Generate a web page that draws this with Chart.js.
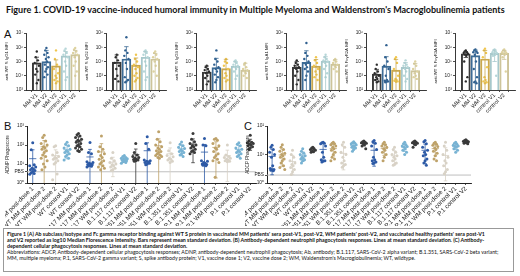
<!DOCTYPE html>
<html>
<head>
<meta charset="utf-8">
<script src="https://cdn.jsdelivr.net/npm/chart.js@4.4.0/dist/chart.umd.min.js"></script>
<style>
body{margin:0;width:520px;height:276px;background:#fff;position:relative;overflow:hidden;font-family:'Liberation Sans',Arial,sans-serif;}
.abs{position:absolute;}
#title{left:6px;top:4px;font:bold 9px Lato,sans-serif;white-space:nowrap;color:#111;}
.lett{font-size:11px;color:#111;}
#cap{left:3px;top:228px;width:511px;height:44px;border:1px solid #999;box-sizing:border-box;padding:2px 3px;font:5.25px/6px Lato,sans-serif;white-space:nowrap;color:#111;}
#cap b{font-weight:bold;}
</style>
</head>
<body>
<div id="title" class="abs">Figure 1. COVID-19 vaccine-induced humoral immunity in Multiple Myeloma and Waldenstrom's Macroglobulinemia patients</div>
<div class="abs lett" style="left:4px;top:28px">A</div>
<div class="abs lett" style="left:4px;top:120px">B</div>
<div class="abs lett" style="left:244px;top:120px">C</div>
<canvas id="a0" class="abs"></canvas>
<canvas id="a1" class="abs"></canvas>
<canvas id="a2" class="abs"></canvas>
<canvas id="a3" class="abs"></canvas>
<canvas id="a4" class="abs"></canvas>
<canvas id="a5" class="abs"></canvas>
<canvas id="chartB" class="abs"></canvas>
<canvas id="chartC" class="abs"></canvas>
<div id="cap" class="abs">
<b>Figure 1 (A) Ab subclass/isotype and Fc gamma receptor binding against WT S protein in vaccinated MM patients' sera post-V1, post-V2, WM patients' post-V2, and vaccinated healthy patients' sera post-V1</b><br>
<b>and V2 reported as log10 Median Florescence Intensity. Bars represent mean standard deviation. (B) Antibody-dependent neutrophil phagocytosis responses. Lines at mean standard deviation. (C) Antibody-</b><br>
<b>dependent cellular phagocytosis responses. Lines at mean standard deviation.</b><br>
Abbreviations: ADCP, Antibody-dependent cellular phagocytosis responses; ADNP, antibody-dependent neutrophil phagocytosis; Ab, antibody; B.1.117, SARS-CoV-2 alpha variant; B.1.351, SARS-CoV-2 beta variant;<br>
MM, multiple myeloma; P.1, SARS-CoV-2 gamma variant; S, spike antibody protein; V1, vaccine dose 1; V2, vaccine dose 2; WM, Waldenstrom's Macroglobulinemia; WT, wildtype.
</div>
<script>
// ---- panel A data ----
let groupsA = ['MM V1','MM V2','WM V2','control V1','control V2'];
let titlesA = ['anti-WT S IgG1 MFI','anti-WT S IgG2 MFI','anti-WT S IgG3 MFI','anti-WT S IgA1 MFI','anti-WT S FcγR2A MFI','anti-WT S FcγR3A MFI'];
let rangeA = [[1e3,1e7],[1e2,1e6],[1e2,1e6],[1e2,1e6],[1e2,1e6],[1e3,1e7]];

let meansIgG1 = [8e4, 1e5, 5e4, 2.5e5, 3e5];
let sdIgG1 = [1.2e5, 5e5, 8e4, 2.5e5, 3e5];
let ptsIgG1 = [
  [5e5,2e5,1.2e5,8e4,5e4,3e4,2e4,1.2e4,5e3,3e3],
  [9e5,6e5,4e5,3e5,2e5,1.5e5,1e5,6e4,4e4,3e4,2e4,1.2e4,8e3],
  [6e5,1.5e5,6e4,3e4,1.5e4,1e4,7e3,5e3,4e3,3e3],
  [8e5,6e5,4e5,3e5,2e5,1e5,5e4,2e4,8e3,5e3],
  [9e5,7e5,5e5,4e5,3e5,2e5,1e5,5e4,2e4,1e4]];

let meansIgG2 = [9e3, 1.5e4, 5.6e3, 2e4, 1.5e4];
let sdIgG2 = [2e4, 9.5e4, 1.2e4, 3e4, 2.2e4];
let ptsIgG2 = [
  [3e4,2e4,1.2e4,8e3,5e3,3e3,1e3,600,400],
  [5e5,6e4,4e4,2.5e4,1.5e4,8e3,3e3,800,500,400,350],
  [3e4,1.5e4,1e4,6e3,4e3,3e3,1.5e3,1e3,700,500,400],
  [6e4,5e4,4e4,3e4,2e4,1e4,5e3,2e3,800,500],
  [5e4,4e4,3e4,2e4,1.5e4,1e4,5e3,2e3,1e3]];

let meansIgG3 = [1.8e3, 3.7e3, 3.2e3, 4.8e3, 2.5e3];
let sdIgG3 = [3e3, 1.3e4, 1.1e4, 5e3, 5e3];
let ptsIgG3 = [
  [5e3,4e3,3e3,2.5e3,2e3,1.5e3,1e3,700,400,250],
  [6e4,1.5e4,1e4,6e3,4e3,3e3,2e3,1.2e3,800,500,350],
  [1.5e4,1e4,8e3,5e3,3e3,1.5e3,1e3,700,500,400],
  [1.2e4,1e4,8e3,6e3,5e3,4e3,3e3,2e3,1e3,600],
  [8e3,6e3,4e3,3e3,2.5e3,2e3,1.5e3,1e3,700]];

let meansIgA1 = [3.9e3, 8.7e3, 4.8e3, 1.07e4, 6.6e3];
let sdIgA1 = [6e3, 4.8e4, 9e3, 1.1e4, 7e3];
let ptsIgA1 = [
  [1.2e4,8e3,6e3,5e3,4e3,3e3,2e3,1e3,500,250],
  [2e5,4e4,2.5e4,1.5e4,1e4,6e3,4e3,3e3,2e3,1e3,500],
  [2e4,1.2e4,8e3,5e3,3e3,2e3,1.2e3,800,500],
  [3e4,2e4,1.5e4,1.2e4,1e4,8e3,5e3,3e3,1.5e3,800],
  [1.5e4,1.2e4,1e4,8e3,6e3,5e3,4e3,3e3,2e3]];

let meansR2A = [1.3e3, 4.8e3, 2.5e3, 3.9e3, 2.3e3];
let sdR2A = [1.5e3, 1.7e4, 1.15e4, 4.4e3, 5e3];
let ptsR2A = [
  [6e3,3e3,2e3,1.5e3,1e3,800,600,500,400,350],
  [1.4e5,2e4,1e4,5e3,3e3,1e3,500,450,400,380,350],
  [2e4,1.5e4,8e3,3e3,1e3,600,500,450,400,380],
  [1.2e4,8e3,6e3,5e3,4e3,3e3,2e3,1e3,600,400],
  [1e4,7e3,5e3,3e3,2e3,1.5e3,1e3,800,600]];

let meansR3A = [3.4e5, 2.6e5, 1.5e5, 3.7e5, 3.7e5];
let sdR3A = [1.5e5, 3.8e5, 4.5e5, 2.7e5, 2.3e5];
let ptsR3A = [
  [6e5,5e5,4.5e5,4e5,3.5e5,3e5,2.5e5,1e5,8e3,4e3],
  [7e5,6e5,5e5,4.5e5,4e5,3e5,1e5,3e4,8e3,4e3,3.5e3,3e3],
  [8e5,6e5,4e5,2e5,4e4,8e3,5e3,4e3,3.5e3,3e3],
  [7e5,6e5,5e5,4.5e5,4e5,3.5e5,3e5,2.5e5,1e4],
  [7e5,6e5,5e5,4.5e5,4e5,3.5e5,3e5,2e5,2e4]];

// ---- panel B / C data ----
let catsB = ['WT MM post-dose 1','WT MM post-dose 2','WT WM post-dose 2','WT control V1','WT control V2',
  'B.1.117 MM post-dose 1','B.1.117 MM post-dose 2','B.1.117 WM post-dose 2','B.1.117 control V1','B.1.117 control V2',
  'B.1.351 MM post-dose 1','B.1.351 MM post-dose 2','B.1.351 WM post-dose 2','B.1.351 control V1','B.1.351 control V2',
  'P.1 MM post-dose 1','P.1 MM post-dose 2','P.1 WM post-dose 2','P.1 control V1','P.1 control V2'];
let catsC = ['WT MM post-dose 1','WT MM post-dose 2','WT WM post-dose 2','WT control V1','WT control V2',
  'B.1.351 MM post-dose 1','B.1.351 MM post-dose 2','B.1.351 WM post-dose 2','B.1.351 control V1','B.1.351 control V2',
  'B.1.117 MM post-dose 1','B.1.117 MM post-dose 2','B.1.117 WM post-dose 2','B.1.117 control V1','B.1.117 control V2',
  'P.1 MM post-dose 1','P.1 MM post-dose 2','P.1 WM post-dose 2','P.1 control V1','P.1 control V2'];

let ptsADNP = [
  [133,56,9,8,7,6,5.5,5,4.5,4,3.5,3.2,2.9],
  [330,250,160,120,100,80,70,60,50,40,30,25,20,15,10,7,5],
  [90,80,40,30,25,22,20,18,15,12,10,3,1.5],
  [140,110,90,70,60,50,45,40,35,30,25,20,16],
  [400,350,300,250,200,180,160,140,120,100,90,80,70,60,50,45],
  [135,40,35,13,12,11,10,9.5,9,8.5,8,7.5,7],
  [300,80,60,45,35,28,22,18,15,12,10,8,7,6,5],
  [40,20,15,12,10,9,8,7,6,5,4.5],
  [28,25,22,20,19,18,17,16,15,14,13,12,11],
  [120,40,30,25,22,20,18,17,16,15,14],
  [270,120,60,16,15,14,13,12,11,10,9],
  [500,200,150,100,80,70,60,50,45,40,35,30,28,25,22,20],
  [130,50,35,28,24,20,18,16,14,12],
  [145,110,90,75,65,55,50,45,40,35,30,25],
  [400,200,150,120,100,90,80,70,60,50,45,40,35],
  [220,100,90,15,14,12,11,10,9.5,9,8.5,8],
  [220,200,180,120,90,70,60,45,35,28,22,18,15,12,2],
  [100,30,25,22,20,18,16,15,14,13],
  [130,110,90,70,60,50,45,40,35,30,25,20],
  [330,160,140,130,120,110,100,90,80,70,60]];

let ptsADCP = [
  [21,18,15,12,10,8,4,3.2,3,2.9,2.8,2.7],
  [22,18,15,13,11,10,9,8,7,6,5,4,3.5,3],
  [14,10,8,6,5,4.5,4,3.5,3,2.5,2],
  [16,13,11,10,9,8,7.5,7,6.5,6,5],
  [18,17,16,15,14,13,12.5,12],
  [27,26,25,24,20,12,8,6.5,6,5.8,5.5],
  [27,25,24,22,20,18,16,14,12,10,8,7,6],
  [27,22,18,12,10,8,6,5,4.5,4,3.6],
  [28,26,25,24,22,20,19,18,17,15,13],
  [30,28,27,26,25,24,22,20,16],
  [31,28,25,20,15,8,6.5,6,5.5,5,4.8],
  [27,24,22,20,18,16,14,12,10,8,6],
  [18,15,12,10,9,8,7,6,5,4.5,4.2],
  [27,24,22,20,19,18,16,14,12,10],
  [30,28,27,26,25,24,22,18],
  [31,28,24,18,14,12,10,9,7,6,5,4.2],
  [27,25,23,21,19,17,15,13,11,9,7,6],
  [27,20,14,10,8,6,5,4,3,2.5,2.1],
  [27,25,23,21,20,19,18,16,14,12],
  [33,31,30,29,28,27,26,25,24]];

let pbsB = 3.9;
let pbsC = 1.9;

// colours
let barColA = ['#3a3a3a','#3d6c96','#c9a74e','#a7c8cb','#cdc49a'];
let dotColA = ['#2a2a2a','#2f5f8f','#f0c64e','#b6d6d8','#ddd2a0'];
let colBC = ['#2d5aa6','#bea26a','#d8d2c6','#78b3d3','#3a3a3a'];

Chart.defaults.font.family = "'Liberation Sans', Arial, sans-serif";
Chart.defaults.color = '#222';
Chart.defaults.animation = false;

const SUP = {'0':'⁰','1':'¹','2':'²','3':'³','4':'⁴','5':'⁵','6':'⁶','7':'⁷','8':'⁸','9':'⁹'};
const pow10 = v => '10' + String(Math.round(Math.log10(v))).split('').map(c=>SUP[c]).join('');
const jitPattern = [0,-1,1,-2,2,-0.5,0.5,-1.5,1.5];

function mean(a){ return a.reduce((s,v)=>s+v,0)/a.length; }
function sd(a){ let m = mean(a); return Math.sqrt(a.reduce((s,v)=>s+(v-m)*(v-m),0)/(a.length-1)); }

// whiskers drawn through the chart's scales
function errPlugin(means, sds, colors, cap, meanHalf, lw){
  return {
    id:'errbars',
    afterDatasetsDraw(chart){
      let ctx = chart.ctx, x = chart.scales.x, y = chart.scales.y;
      ctx.save();
      ctx.lineWidth = lw;
      means.forEach((m,i)=>{
        let px = x.getPixelForValue(i);
        let hiV = m + sds[i];
        let loV = m - sds[i];
        let top = y.getPixelForValue(Math.min(hiV, y.max));
        let bot = y.getPixelForValue(loV > y.min ? loV : y.min);
        ctx.strokeStyle = colors[i % colors.length];
        ctx.beginPath();
        ctx.moveTo(px, top); ctx.lineTo(px, bot);
        ctx.moveTo(px-cap, top); ctx.lineTo(px+cap, top);
        if (loV > y.min){ ctx.moveTo(px-cap, bot); ctx.lineTo(px+cap, bot); }
        if (meanHalf){ let pm = y.getPixelForValue(m); ctx.moveTo(px-meanHalf, pm); ctx.lineTo(px+meanHalf, pm); }
        ctx.stroke();
      });
      ctx.restore();
    }
  };
}

function logTicks(min, max){
  let t = [];
  for (let v = min; v <= max*1.001; v *= 10) t.push({value:v});
  return t;
}

// ---- panel A ----
let axA = [26, 106, 196, 286, 366, 455];
let dataA = [
  [meansIgG1, sdIgG1, ptsIgG1],
  [meansIgG2, sdIgG2, ptsIgG2],
  [meansIgG3, sdIgG3, ptsIgG3],
  [meansIgA1, sdIgA1, ptsIgA1],
  [meansR2A, sdR2A, ptsR2A],
  [meansR3A, sdR3A, ptsR3A]];

dataA.forEach((d,k)=>{
  let cv = document.getElementById('a'+k);
  cv.width = 86; cv.height = 86;
  cv.style.left = (axA[k]-22)+'px'; cv.style.top = '28px';
  let [means, sds, pts] = d;
  let datasets = [];
  pts.forEach((g,i)=>{
    datasets.push({
      type:'scatter', order:0,
      data: g.map((v,j)=>({x: i + jitPattern[j % jitPattern.length]*0.11, y: v})),
      pointRadius:1.2, pointBorderWidth:0,
      pointBackgroundColor: dotColA[i]
    });
  });
  datasets.push({
    type:'bar', order:2,
    data: means.map((m,i)=>({x:i, y:m})),
    backgroundColor:'rgba(255,255,255,0)',
    borderColor: barColA, borderWidth:1.3,
    barThickness:9
  });
  new Chart(cv, {
    type:'bar',
    data:{datasets},
    options:{
      responsive:false, maintainAspectRatio:false,
      layout:{padding:{top:5, right:2, left:0, bottom:0}},
      plugins:{legend:{display:false}, tooltip:{enabled:false}},
      scales:{
        x:{type:'linear', min:-0.5, max:4.5,
          afterBuildTicks: s => { s.ticks = groupsA.map((g,i)=>({value:i})); },
          afterFit: s => { s.height = 24; s.paddingLeft = 0; s.paddingRight = 0; },
          ticks:{autoSkip:false, minRotation:45, maxRotation:45, padding:0, font:{size:5.6},
            callback: v => groupsA[v]},
          grid:{drawOnChartArea:false, tickLength:2, color:'#222', lineWidth:0.8},
          border:{color:'#222', width:0.9}},
        y:{type:'logarithmic', min:rangeA[k][0], max:rangeA[k][1],
          afterBuildTicks: s => { s.ticks = logTicks(rangeA[k][0], rangeA[k][1]); },
          afterFit: s => { s.width = 22; },
          ticks:{font:{size:4.8}, padding:1, callback: v => pow10(v)},
          grid:{drawOnChartArea:false, tickLength:2, color:'#222', lineWidth:0.8},
          border:{color:'#222', width:0.9},
          title:{display:true, text:titlesA[k], font:{size:4.3}, padding:0}}
      }
    },
    plugins:[errPlugin(means, sds, barColA, 2.2, 0, 0.8)]
  });
});

// ---- panels B and C ----
function makeScatter(id, left, width, cats, pts, pbs, yTitle, ymax, spread){
  let cv = document.getElementById(id);
  cv.width = width; cv.height = 108;
  cv.style.left = left+'px'; cv.style.top = '118px';
  let datasets = pts.map((g,i)=>({
    type:'scatter', order:0,
    data: g.map((v,j)=>({x: i + jitPattern[j % jitPattern.length]*spread, y: v})),
    pointRadius:1.5, pointBorderWidth:0,
    pointBackgroundColor: colBC[i % 5]
  }));
  datasets.push({
    type:'line', order:3,
    data:[{x:-0.5, y:pbs},{x:cats.length-0.5, y:pbs}],
    borderColor:'#b8b8b8', borderWidth:0.9, pointRadius:0
  });
  let means = pts.map(mean), sds = pts.map(sd);
  new Chart(cv, {
    type:'scatter',
    data:{datasets},
    options:{
      responsive:false, maintainAspectRatio:false,
      layout:{padding:{top:8, right:2, left:0, bottom:0}},
      plugins:{legend:{display:false}, tooltip:{enabled:false}},
      scales:{
        x:{type:'linear', min:-0.5, max:cats.length-0.5,
          afterBuildTicks: s => { s.ticks = cats.map((c,i)=>({value:i})); },
          afterFit: s => { s.height = 43; s.paddingLeft = 0; s.paddingRight = 0; },
          ticks:{autoSkip:false, minRotation:45, maxRotation:45, padding:0, font:{size:6.3},
            color:'#1a1a1a', callback: v => cats[v]},
          grid:{drawOnChartArea:false, tickLength:2, color:'#222', lineWidth:0.8},
          border:{color:'#222', width:1}},
        y:{type:'logarithmic', min:1, max:ymax,
          afterBuildTicks: s => { let t = logTicks(1, ymax); t.splice(1,0,{value:pbs}); s.ticks = t; },
          afterFit: s => { s.width = 22; },
          ticks:{font:{size:4.8}, padding:1, callback: v => v === pbs ? 'PBS' : pow10(v)},
          grid:{drawOnChartArea:false, tickLength:2, color:'#222', lineWidth:0.8},
          border:{color:'#222', width:1},
          title:{display:true, text:yTitle, font:{size:4.6}, padding:0}}
      }
    },
    plugins:[errPlugin(means, sds, colBC, 1.8, 3.6, 0.8)]
  });
}

makeScatter('chartB', 5, 255, catsB, ptsADNP, pbsB, 'ADNP Phagoscore', 1000, 0.13);
makeScatter('chartC', 245, 230, catsC, ptsADCP, pbsC, 'ADCP Phagoscore', 100, 0.12);
</script>
</body>
</html>
